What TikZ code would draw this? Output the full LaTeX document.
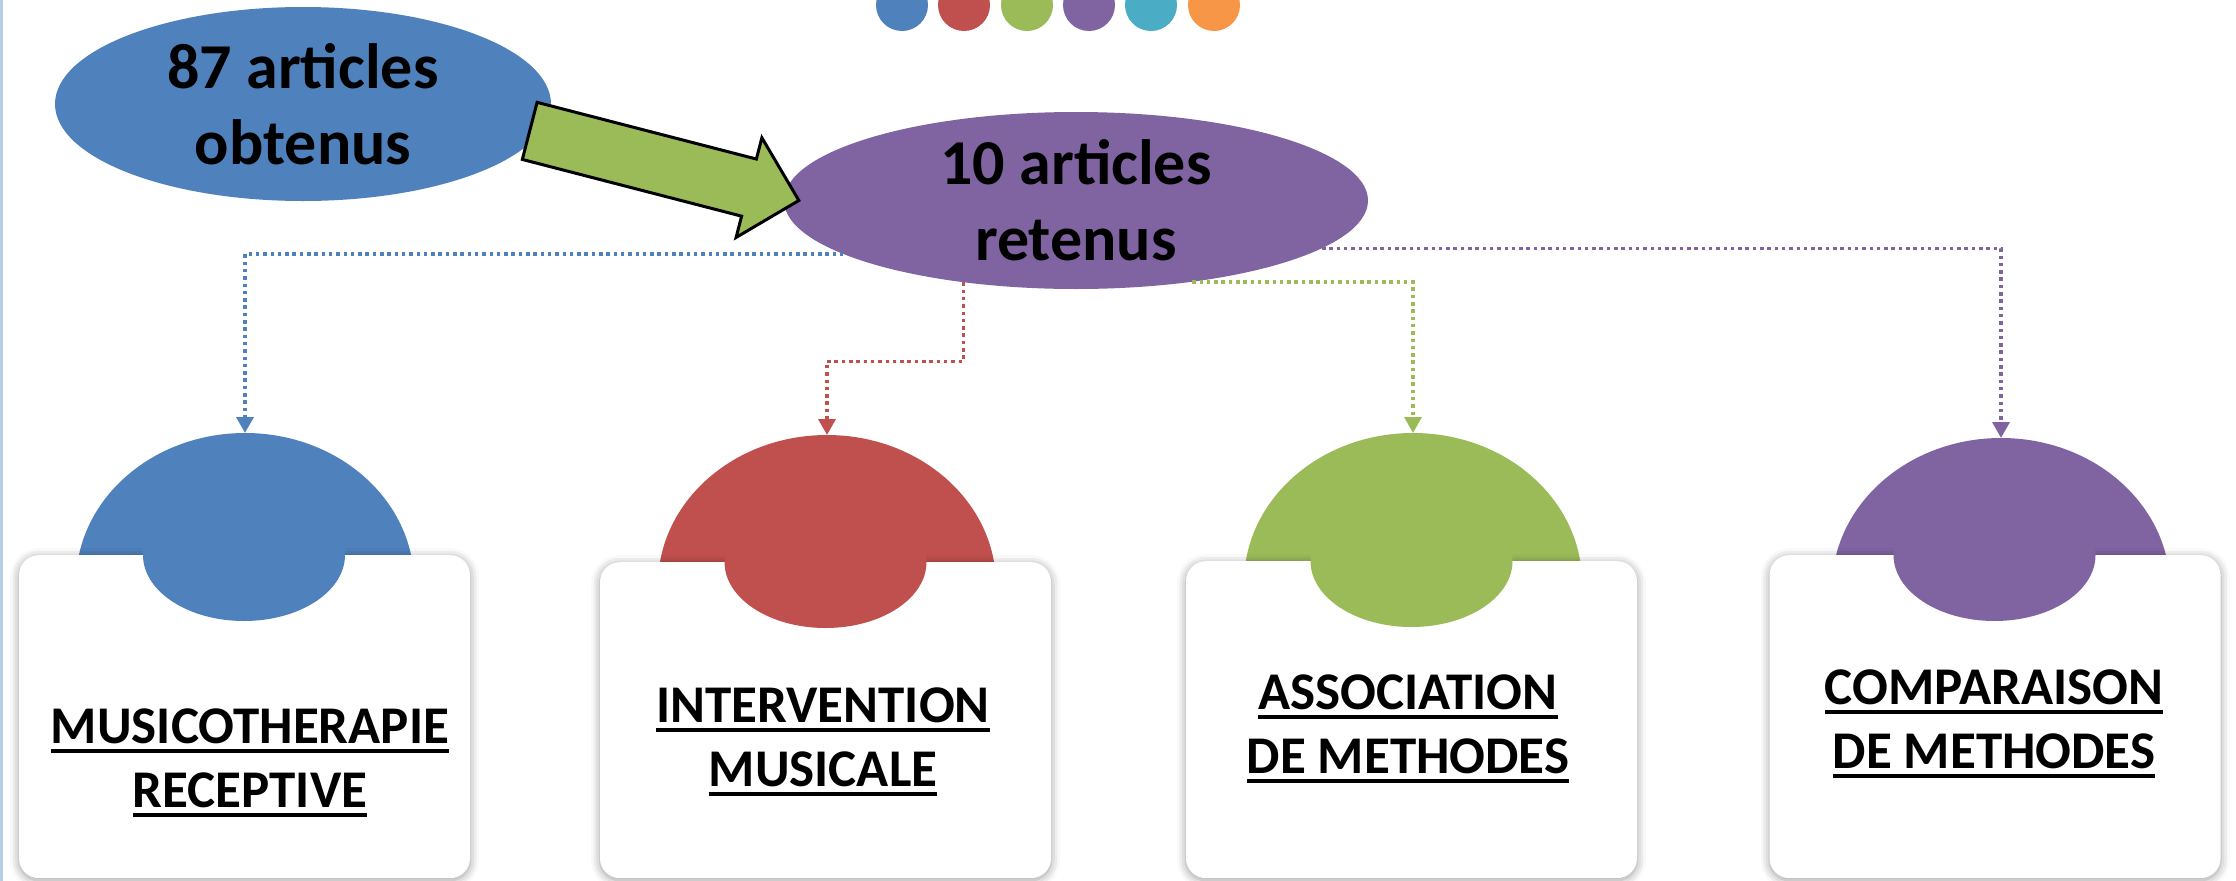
\documentclass[tikz,border=0pt]{standalone}
\usepackage{fontspec}
\setmainfont{Carlito}
\usetikzlibrary{shapes.geometric,shapes.arrows,arrows.meta,shadows.blur}
\definecolor{mblue}{HTML}{4F81BD}
\definecolor{mred}{HTML}{C0504D}
\definecolor{mgreen}{HTML}{9BBB59}
\definecolor{mpurple}{HTML}{8064A2}
\definecolor{mteal}{HTML}{4BACC6}
\definecolor{morange}{HTML}{F79646}
\definecolor{edgeblue}{HTML}{B9CDE5}
\newsavebox{\ulbox}
\newcommand{\ulbar}[1]{\sbox{\ulbox}{#1}\rlap{\rule[-10pt]{\wd\ulbox}{4.5pt}}\usebox{\ulbox}}

\begin{document}
\begin{tikzpicture}[x=1pt, y=-1pt,
    bubble/.style = {ellipse, fill=#1, inner sep=0pt, align=center,
      font=\bfseries\fontsize{64}{76}\selectfont},
    bigarrow/.style = {single arrow, draw=black, line width=3pt, fill=mgreen,
      minimum height=278pt, text height=28pt, text depth=28pt,
      single arrow head extend=22pt, inner sep=0pt},
    dome/.style = {ellipse, fill=#1, inner sep=0pt, outer sep=0pt,
      minimum width=338pt, minimum height=300pt},
    knob/.style = {ellipse, fill=#1, inner sep=0pt,
      minimum width=202pt, minimum height=132pt},
    card/.style = {rectangle, rounded corners=20pt, fill=white,
      minimum width=451pt, anchor=north,
      blur shadow={shadow xshift=0pt, shadow yshift=-2pt,
        shadow blur radius=9pt, shadow opacity=40}},
    cardtext/.style = {align=center, inner sep=0pt,
      font=\bfseries\fontsize{53}{64}\selectfont},
    link/.style = {draw=#1, line width=3.5pt, dash pattern=on 3.5pt off 3.8pt,
      -{Triangle[width=17pt,length=16pt]}}]
  \useasboundingbox (0,0) rectangle (2236,881);

  % page edge and colour dots
  \fill[edgeblue] (0,0) rectangle (3,881);
  \fill[mblue] (902,5) circle[radius=26];
  \fill[mred] (964,5) circle[radius=26];
  \fill[mgreen] (1027,5) circle[radius=26];
  \fill[mpurple] (1089,5) circle[radius=26];
  \fill[mteal] (1151,5) circle[radius=26];
  \fill[morange] (1214,5) circle[radius=26];

  % domes behind the cards
  \node[dome=mblue] (dome1) at (245,583) {};
  \node[dome=mred] (dome2) at (827,585) {};
  \node[dome=mgreen] (dome3) at (1413,583) {};
  \node[dome=mpurple] (dome4) at (2001,588) {};

  \node[card, minimum height=323pt] (card1) at (244.5,555) {};
  \node[card, minimum height=316pt] (card2) at (825.5,562) {};
  \node[card, minimum height=317pt] (card3) at (1411.5,561) {};
  \node[card, minimum height=323pt] (card4) at (1995,555) {};

  \node[knob=mblue] (knob1) at (244,555) {};
  \node[knob=mred] (knob2) at (825.5,562) {};
  \node[knob=mgreen] (knob3) at (1411.5,561) {};
  \node[knob=mpurple] (knob4) at (1994.5,555) {};

  \node[cardtext] (txt1) at (250,763) {\ulbar{MUSICOTHERAPIE}\\\ulbar{RECEPTIVE}};
  \node[cardtext] (txt2) at (823,742) {\ulbar{INTERVENTION}\\\ulbar{MUSICALE}};
  \node[cardtext] (txt3) at (1408,729) {\ulbar{ASSOCIATION}\\\ulbar{DE METHODES}};
  \node[cardtext] (txt4) at (1994,724) {\ulbar{COMPARAISON}\\\ulbar{DE METHODES}};

  % the two article counts
  \node[bubble=mblue, minimum width=496pt, minimum height=194pt] (obt)
    at (303,104) {87 articles\\obtenus};
  \node[bubble=mpurple, minimum width=584pt, minimum height=177pt] (ret)
    at (1076,200.5) {10 articles\\retenus};

  \draw[link=mblue] (ret.193) -| (dome1.north);
  \draw[link=mred] (ret.216) -- ++(0,79) -| (dome2.north);
  \draw[link=mgreen] (ret.325) -| (dome3.north);
  \draw[link=mpurple] (ret.349) -| (dome4.north);

  \node[bigarrow, rotate=-14.5] (push) at (650,162) {};
\end{tikzpicture}
\end{document}
